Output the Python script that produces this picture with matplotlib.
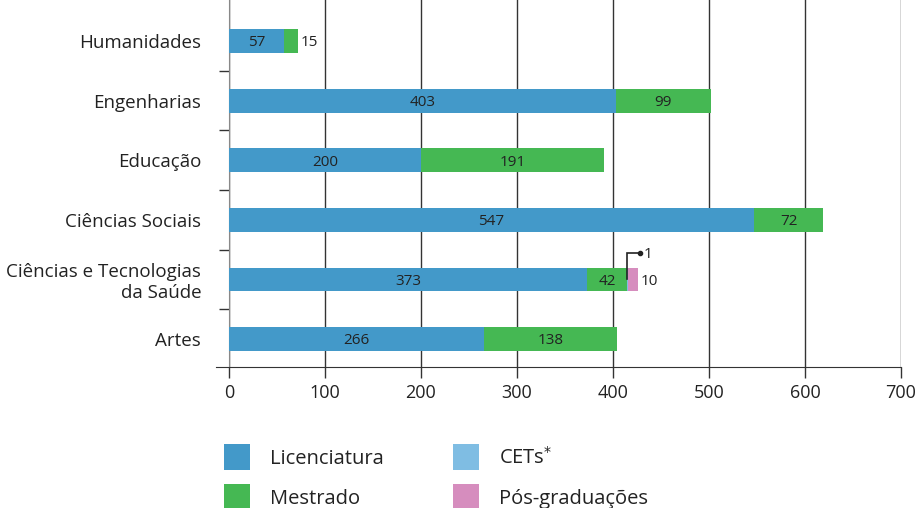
import matplotlib.pyplot as plt
from matplotlib.patches import Patch

categories = ["Artes", "Ciências e Tecnologias\nda Saúde", "Ciências Sociais",
              "Educação", "Engenharias", "Humanidades"]
licenciatura = [266, 373, 547, 200, 403, 57]
mestrado = [138, 42, 72, 191, 99, 15]
cets = [0, 1, 0, 0, 0, 0]
pos_grad = [0, 10, 0, 0, 0, 0]
x_ticks = [0, 100, 200, 300, 400, 500, 600, 700]

series_names = ["Licenciatura", "Mestrado", "CETs$^{*}$", "Pós-graduações"]
colors = ["#4399C9", "#45B853", "#7FBDE3", "#D68DBE"]

plt.rcParams['font.family'] = ['Open Sans', 'DejaVu Sans']

fig = plt.figure(figsize=(9.19, 5.08), dpi=100)
ax = fig.add_axes([229 / 919, 1 - 367 / 508, 672 / 919, 367 / 508])

y = list(range(len(categories)))
h = 0.4
ax.barh(y, licenciatura, height=h, color=colors[0], zorder=3)
ax.barh(y, mestrado, left=licenciatura, height=h, color=colors[1], zorder=3)
left3 = [a + b for a, b in zip(licenciatura, mestrado)]
ax.barh(y, cets, left=left3, height=h, color=colors[2], zorder=3)
left4 = [a + b for a, b in zip(left3, cets)]
ax.barh(y, pos_grad, left=left4, height=h, color=colors[3], zorder=3)

lab_fs = 11
txt = '#222222'
dy = -0.03  # small downward nudge so digits sit visually centred on the bar
for i in y:
    lic, mes = licenciatura[i], mestrado[i]
    ax.text(lic / 2, i + dy, str(lic), ha='center', va='center',
            fontsize=lab_fs, color=txt, zorder=4)
    if lic >= 100:
        ax.text(lic + mes / 2, i + dy, str(mes), ha='center', va='center',
                fontsize=lab_fs, color=txt, zorder=4)
    else:
        ax.text(lic + mes + 3, i + dy, str(mes), ha='left', va='center',
                fontsize=lab_fs, color=txt, zorder=4)
    if pos_grad[i] > 0:
        ax.text(left4[i] + pos_grad[i] + 3, i + dy, str(pos_grad[i]),
                ha='left', va='center', fontsize=lab_fs, color=txt, zorder=4)
    if cets[i] > 0:
        x0 = left3[i]
        ytop = i + 0.45
        ax.plot([x0, x0, x0 + 13], [i, ytop, ytop], color=txt, lw=1.2,
                zorder=5, solid_joinstyle='miter')
        ax.plot([x0 + 13], [ytop], 'o', color=txt, ms=3, zorder=5)
        ax.text(x0 + 17, ytop + dy, str(cets[i]), ha='left', va='center',
                fontsize=lab_fs, color=txt, zorder=5)

ax.set_xlim(0, 700)
ax.set_ylim(-0.47, 5.69)

for side in ['top', 'right']:
    ax.spines[side].set_visible(False)
ax.spines['bottom'].set_color('#333333')
ax.spines['left'].set_color('#888888')
ax.spines['bottom'].set_position(('data', -0.47))
ax.spines['bottom'].set_bounds(-14, 700)

ax.set_xticks(x_ticks)
ax.set_xticklabels([str(t) for t in x_ticks])
ax.set_yticks(y)
ax.set_yticklabels(categories, multialignment='right', linespacing=1.2)
ax.set_yticks([i + 0.5 for i in y[:-1]], minor=True)
ax.tick_params(axis='y', which='major', length=0, pad=20, labelsize=13.5,
               labelcolor=txt)
ax.tick_params(axis='y', which='minor', length=7, width=1, color='#333333')
ax.tick_params(axis='x', length=8, width=1, color='#333333', pad=4,
               labelsize=13, labelcolor=txt)

ax.grid(axis='x', color='#333333', lw=1, zorder=0)

handles = [Patch(facecolor=c, edgecolor='none') for c in colors]
fig.legend(handles, series_names, ncol=2, loc='upper left',
           bbox_to_anchor=(206 / 919, 1 - 426 / 508), frameon=False,
           fontsize=14.5, handlelength=1.3, handleheight=1.6,
           handletextpad=1.0, columnspacing=3.4, labelspacing=0.7,
           labelcolor=txt)

fig.savefig("out.png", dpi=100)
